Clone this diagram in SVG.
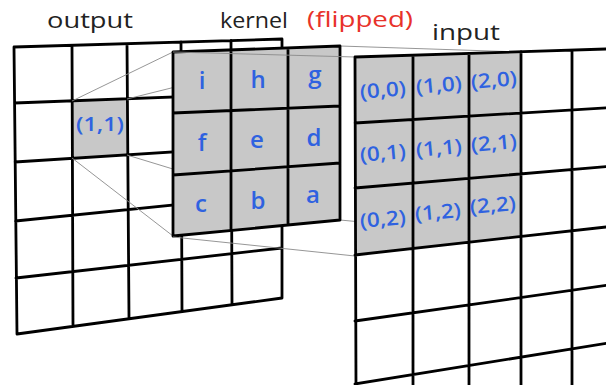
<svg xmlns="http://www.w3.org/2000/svg" width="606" height="385" viewBox="0 0 606 385">
<style>
.grid{fill:none;stroke:#000;stroke-width:2.8;stroke-linejoin:round;stroke-linecap:round}
.cellw{fill:#fff}
.cellg{fill:#c8c8c8}
.proj{fill:none;stroke:#8a8a8a;stroke-width:0.9}
.title{font-family:"Open Sans","Noto Sans",sans-serif;font-size:22px;fill:#222}
.red{fill:#e8322a}
.lbl{font-family:"Open Sans","Noto Sans",sans-serif;font-size:24px;font-weight:600;fill:#2f62e0;text-anchor:middle}
.idx{font-family:"Open Sans","Noto Sans",sans-serif;font-size:20px;font-weight:600;fill:#2f62e0}
</style>
<rect width="606" height="385" fill="#fff"/>

<g id="titles">
<text class="title" x="47" y="28" textLength="86" lengthAdjust="spacingAndGlyphs">output</text>
<text class="title" x="220" y="28" textLength="68" lengthAdjust="spacingAndGlyphs">kernel</text>
<text class="title red" x="307" y="27" textLength="106" lengthAdjust="spacingAndGlyphs">(flipped)</text>
<text class="title" x="432" y="40" textLength="68" lengthAdjust="spacingAndGlyphs">input</text>
</g>

<g id="output">
<polygon class="cellw" points="14,47 282,39 282,298 17,334"/>
<polygon class="cellg" points="72,100.8 127,98.8 127,154.9 72,158.4"/>
<path class="grid" d="M14,47 L282,39 L282,298 L17,334 Z
M14.5,103 L282,93 M15,162 L282,145 M15.5,221 L282,194 M16,278 L282,248
M72,45.3 L73,326.4 M127,43.6 L129,318.8 M181,42 L182,311.6 M231,40.5 L232,304.8"/>
<text class="idx" x="76" y="131" textLength="48" lengthAdjust="spacingAndGlyphs">(1,1)</text>
</g>

<g id="connectors">
<path class="proj" d="M72,101 L173,52 M127,99 L340,46 M72,158 L173,236 M127,155 L340,220 M340,46 L521,52 M340,220 L521,237"/>
</g>

<g id="kernel">
<polygon class="cellg" points="173,52 340,46 340,220 173,236"/>
<path class="grid" d="M173,52 L340,46 L340,220 L173,236 Z
M173,113 L340,106 M173,175 L340,163
M231,49.9 L231,230.4 M288,47.9 L288,225"/>
<text class="lbl" x="202" y="89">i</text>
<text class="lbl" x="258" y="88">h</text>
<text class="lbl" x="315" y="83">g</text>
<text class="lbl" x="202" y="151">f</text>
<text class="lbl" x="257" y="148">e</text>
<text class="lbl" x="314" y="146">d</text>
<text class="lbl" x="201" y="212">c</text>
<text class="lbl" x="258" y="209">b</text>
<text class="lbl" x="313" y="203">a</text>
</g>

<g id="connectors-front">
<path class="proj" d="M173,52 L355,57 M173,237 L355,256"/>
</g>

<g id="input">
<polygon class="cellw" points="355,57 612,48.5 612,341 355,384"/>
<polygon class="cellg" points="355,57 521,51.7 521,236.5 355,255"/>
<path class="grid" d="M355,57 L612,48.8 M355,123 L612,107.6 M355,188 L612,166.2 M355,255 L612,226.3 M355,321 L612,284.6 M355,384 L612,342.4
M355,57 L356,386 M413,55.2 L413,386 M469,53.4 L469,386 M521,51.7 L521,386 M572,50.1 L572,386"/>
<text class="idx" x="360" y="97" textLength="46" lengthAdjust="spacingAndGlyphs" transform="rotate(-5 383 92)">(0,0)</text>
<text class="idx" x="416" y="92" textLength="46" lengthAdjust="spacingAndGlyphs" transform="rotate(-5 439 87)">(1,0)</text>
<text class="idx" x="471" y="87" textLength="46" lengthAdjust="spacingAndGlyphs" transform="rotate(-5 494 82)">(2,0)</text>
<text class="idx" x="360" y="160" textLength="46" lengthAdjust="spacingAndGlyphs" transform="rotate(-5 383 155)">(0,1)</text>
<text class="idx" x="416" y="155" textLength="46" lengthAdjust="spacingAndGlyphs" transform="rotate(-5 439 150)">(1,1)</text>
<text class="idx" x="471" y="150" textLength="46" lengthAdjust="spacingAndGlyphs" transform="rotate(-5 494 145)">(2,1)</text>
<text class="idx" x="360" y="226" textLength="46" lengthAdjust="spacingAndGlyphs" transform="rotate(-5 383 221)">(0,2)</text>
<text class="idx" x="415" y="219" textLength="46" lengthAdjust="spacingAndGlyphs" transform="rotate(-5 438 214)">(1,2)</text>
<text class="idx" x="470" y="212" textLength="46" lengthAdjust="spacingAndGlyphs" transform="rotate(-5 493 207)">(2,2)</text>
</g>
</svg>
